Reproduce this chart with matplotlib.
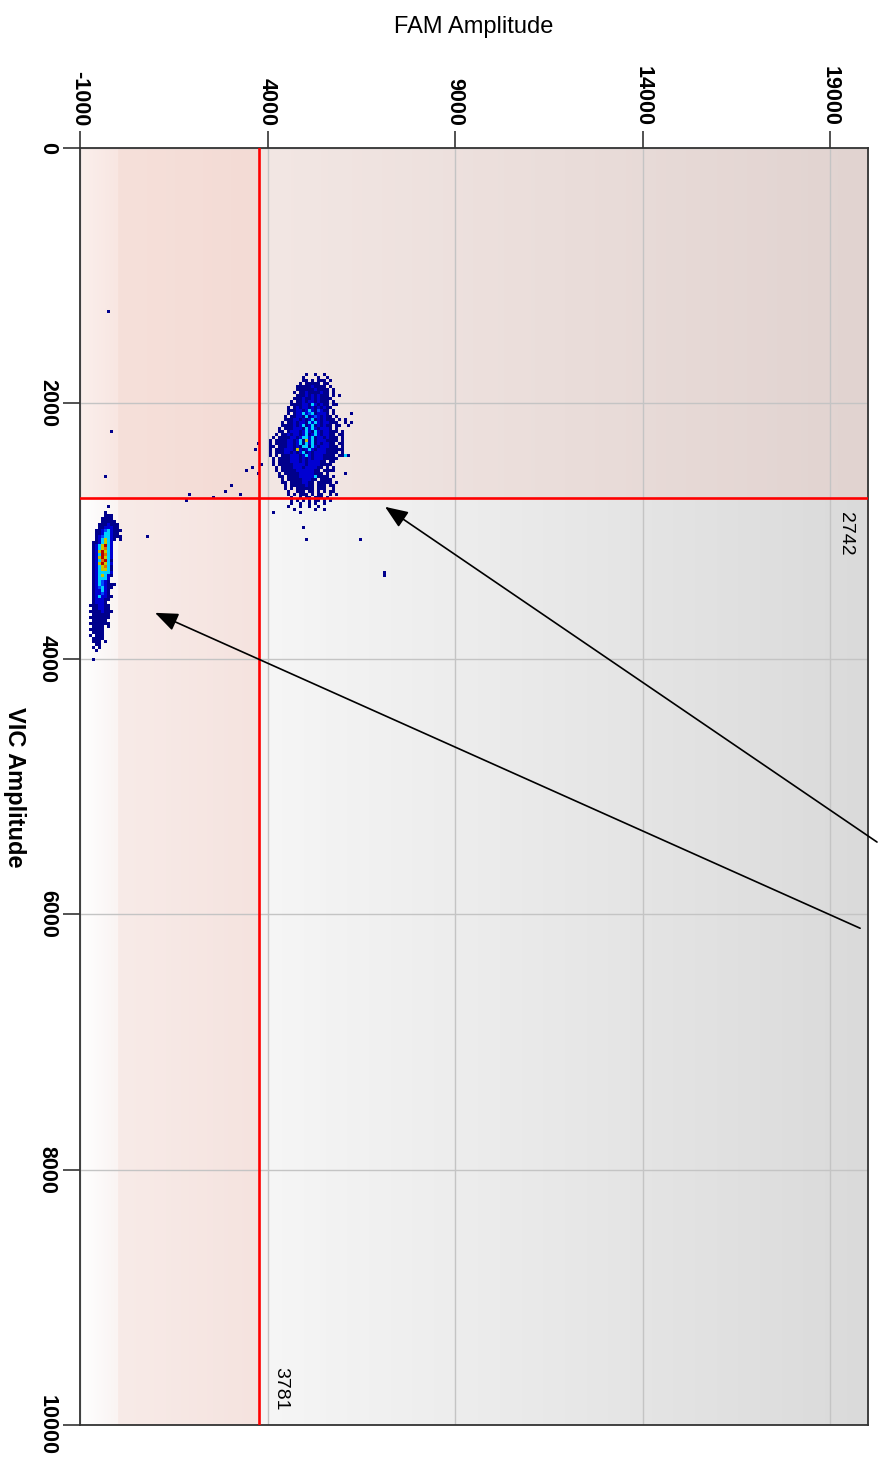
import numpy as np
import matplotlib
matplotlib.use('Agg')
import matplotlib.pyplot as plt
from matplotlib.colors import ListedColormap, BoundaryNorm, to_rgb

plt.rcParams['font.family'] = ['Liberation Sans', 'DejaVu Sans']

# Thresholds
FAM_THRESHOLD = 3781
VIC_THRESHOLD = 2742

# Axis ticks
fam_ticks = [-1000, 4000, 9000, 14000, 19000]
vic_ticks = [0, 2000, 4000, 6000, 8000, 10000]

# Droplet density bins (amplitude units per cell)
FAM_BIN = 80
VIC_BIN = 23.5

# FAM+ / VIC- cluster: rows run along VIC, columns along FAM.
# '.' = empty, 1..7 = density level
upper_fam0 = 3900
upper_vic0 = 1760
upper_cluster = [
    "..............1..1..1.........",
    ".............1....1..1........",
    ".............11.1.111.1.......",
    "............1.11111.11........",
    "...........1111121111.1.......",
    "...........11111121111.1......",
    "..........1.1121111211.1......",
    "...........11121212111.1.1....",
    "..........1112112121111.......",
    ".........1.11212212111.1......",
    ".........1111221421211.11.....",
    "........1.1212212121211.......",
    "........11122124213211.1......",
    "........1.122423412221.1.....1",
    ".......1.11221412321211.1.....",
    ".......11122121241212111.1.1..",
    "......1.11212214242122111..1.1",
    "......11112124124121211.11..1.",
    ".....1.1112221424212221.1.....",
    ".....11.12221242142122111.1...",
    "....1.112122124124212211.11...",
    "...1.11112212442412212111.1...",
    "..1.111122124152412221111.1...",
    "..1.11112212414241212211.11...",
    "..11.11122121441421222111.1...",
    "..1.11122215212421222111111...",
    "..1.111221212412122221111.1...",
    "..1.1.111222124212221111.1141.",
    "...1.11112221212122211111.....",
    "...1.1111222121222211.11......",
    "...1.111112222122221111.......",
    "....1.11112221222211.1.1......",
    "....1.1111122222211.1111......",
    ".....1.1111122222111.1.....1..",
    ".....11.11112222241111.1......",
    "......1.1111122211.1111.......",
    "......11.11112211.11111.1.....",
    ".......1.11111211.111.11......",
    ".......1.1.111111.111..1......",
    "........1..111.11.1.1.11......",
    "........1.1.111.1.11..1.1.....",
    ".........1..1.11.111.1........",
    ".........1.1.1.1.11.1.1.......",
    ".........1..1..1.1..1.........",
    "........1...1..1..1...........",
    "..........1......1..1.........",
]

# FAM- / VIC+ cluster
lower_fam0 = -790
lower_vic0 = 2850
lower_cluster = [
    ".....1.....",
    ".....111...",
    "....1111...",
    "....11111..",
    "...1112111.",
    "...1122211.",
    "..112342111",
    "..11244211.",
    "..12344211.",
    "..1245421.1",
    ".1124542...",
    ".1245742...",
    ".1245642...",
    ".1257542...",
    ".1247642...",
    ".1257542...",
    ".1246741...",
    ".1257542...",
    ".1245641...",
    ".1245541...",
    ".1244442...",
    ".1245421...",
    ".124442....",
    ".124321....",
    ".12432111..",
    ".1234211...",
    ".122421....",
    ".122321....",
    ".1242211...",
    ".122211....",
    ".12221.....",
    "1112211....",
    ".112211....",
    "11112111...",
    ".111111....",
    "1111111....",
    ".11111.....",
    "1111111....",
    ".1111.1....",
    "11111......",
    ".1111......",
    "1.111......",
    ".1111......",
    ".111.1.....",
    "..11.......",
    ".1.1.......",
    "..1........",
]

# Single stray droplets (FAM, VIC)
stray_fam = [-250, -150, -360, -250, 40, 810, -630, 1800, 1900, 2520, 2860,
             3050, 3260, 3420, 3560, 3720, 3640, 3770, 3820, 4140, 4890,
             4920, 5020, 6440, 7100, 7130]
stray_vic = [1290, 2210, 2580, 2800, 3050, 3050, 4010, 2760, 2710, 2730, 2700,
             2650, 2720, 2530, 2510, 2550, 2370, 2310, 2490, 2850, 2860,
             2980, 3070, 3070, 3320, 3360]

level_colors = ['#00008c', '#0000d2', '#0048ff', '#00d0ff',
                '#c8c400', '#e07000', '#b40000']

fam_min, fam_max = -1000, 20000
vic_min, vic_max = 0, 10000

fig = plt.figure(figsize=(8.8, 14.61), dpi=100)
ax = fig.add_axes([80 / 880, 36 / 1461, 788 / 880, 1277 / 1461])

# background shading: horizontal gradients in each quadrant
def gradient(c0, c1, n):
    a, b = np.array(to_rgb(c0)), np.array(to_rgb(c1))
    t = np.linspace(0, 1, n)[:, None]
    return a + (b - a) * t

fam_px = np.linspace(fam_min, fam_max, 788)
vic_px = np.linspace(vic_min, vic_max, 1277)
top_row = np.zeros((788, 3))
bot_row = np.zeros((788, 3))
m0 = fam_px < 0
m1 = (fam_px >= 0) & (fam_px < FAM_THRESHOLD)
m2 = fam_px >= FAM_THRESHOLD
top_row[m0] = gradient('#fbefec', '#f8e6e2', m0.sum())
top_row[m1] = gradient('#f6e0da', '#f3dbd5', m1.sum())
top_row[m2] = gradient('#f3e7e4', '#e1d3d0', m2.sum())
bot_row[m0] = gradient('#ffffff', '#faf4f3', m0.sum())
bot_row[m1] = gradient('#f8ebe8', '#f5e3df', m1.sum())
bot_row[m2] = gradient('#f6f6f6', '#dadada', m2.sum())
bg = np.where((vic_px < VIC_THRESHOLD)[:, None, None], top_row[None], bot_row[None])
ax.imshow(bg, extent=(fam_min, fam_max, vic_max, vic_min), aspect='auto',
          interpolation='nearest', zorder=0)

# droplet density grid
nf = int(np.ceil((fam_max - fam_min) / FAM_BIN))
nv = int(np.ceil((vic_max - vic_min) / VIC_BIN))
density = np.zeros((nv, nf))

def paint(rows, fam0, vic0):
    c0 = int(round((fam0 - fam_min) / FAM_BIN))
    r0 = int(round((vic0 - vic_min) / VIC_BIN))
    for r, line in enumerate(rows):
        for c, ch in enumerate(line):
            if ch.isdigit():
                density[r0 + r, c0 + c] = int(ch)

paint(upper_cluster, upper_fam0, upper_vic0)
paint(lower_cluster, lower_fam0, lower_vic0)
for f, v in zip(stray_fam, stray_vic):
    c = int((f - fam_min) // FAM_BIN)
    r = int((v - vic_min) // VIC_BIN)
    density[r, c] = max(density[r, c], 1)

fam_edges = fam_min + FAM_BIN * np.arange(nf + 1)
vic_edges = vic_min + VIC_BIN * np.arange(nv + 1)
cmap = ListedColormap(level_colors)
norm = BoundaryNorm(np.arange(0.5, 8.5, 1), cmap.N)
ax.pcolormesh(fam_edges, vic_edges, np.ma.masked_equal(density, 0),
              cmap=cmap, norm=norm, zorder=2)

# threshold lines
ax.axvline(FAM_THRESHOLD, color='red', lw=1.9, zorder=4)
ax.axhline(VIC_THRESHOLD, color='red', lw=1.9, zorder=4)
ax.text(19410, VIC_THRESHOLD + 110, str(VIC_THRESHOLD), rotation=270,
        ha='center', va='top', fontsize=14, zorder=5)
ax.text(FAM_THRESHOLD + 580, 9890, str(FAM_THRESHOLD), rotation=270,
        ha='center', va='bottom', fontsize=14, zorder=5)

# arrows pointing at the clusters
arrow = dict(arrowstyle='-|>,head_length=0.7,head_width=0.28', color='black',
             lw=1.2, mutation_scale=20, shrinkA=0, shrinkB=0)
ax.annotate('', xy=(7130, 2810), xytext=(20240, 5435), arrowprops=arrow,
            annotation_clip=False, zorder=6)
ax.annotate('', xy=(1000, 3640), xytext=(19790, 6110), arrowprops=arrow,
            annotation_clip=False, zorder=6)

ax.set_xlim(fam_min, fam_max)
ax.set_ylim(vic_max, vic_min)
ax.xaxis.tick_top()
ax.set_xticks(fam_ticks)
ax.set_xticklabels([str(t) for t in fam_ticks], rotation=270, fontsize=15.5,
                   fontweight='bold', ha='center', va='bottom')
ax.set_yticks(vic_ticks)
ax.set_yticklabels([str(t) for t in vic_ticks], rotation=270, fontsize=15.5,
                   fontweight='bold', ha='right', va='center')
ax.tick_params(length=12, width=1.2, color='#333333', pad=4)
ax.grid(True, color='#c4c4c4', lw=1.0)
ax.set_axisbelow(True)
for s in ax.spines.values():
    s.set_color('#333333')
    s.set_linewidth(1.3)

fig.text(474 / 880, 1 - 27 / 1461, 'FAM Amplitude', ha='center', va='center',
         fontsize=17)
fig.text(14 / 880, 1 - 787 / 1461, 'VIC Amplitude', ha='center', va='center',
         rotation=270, fontsize=17, fontweight='bold')

fig.savefig('out.png', dpi=100)
